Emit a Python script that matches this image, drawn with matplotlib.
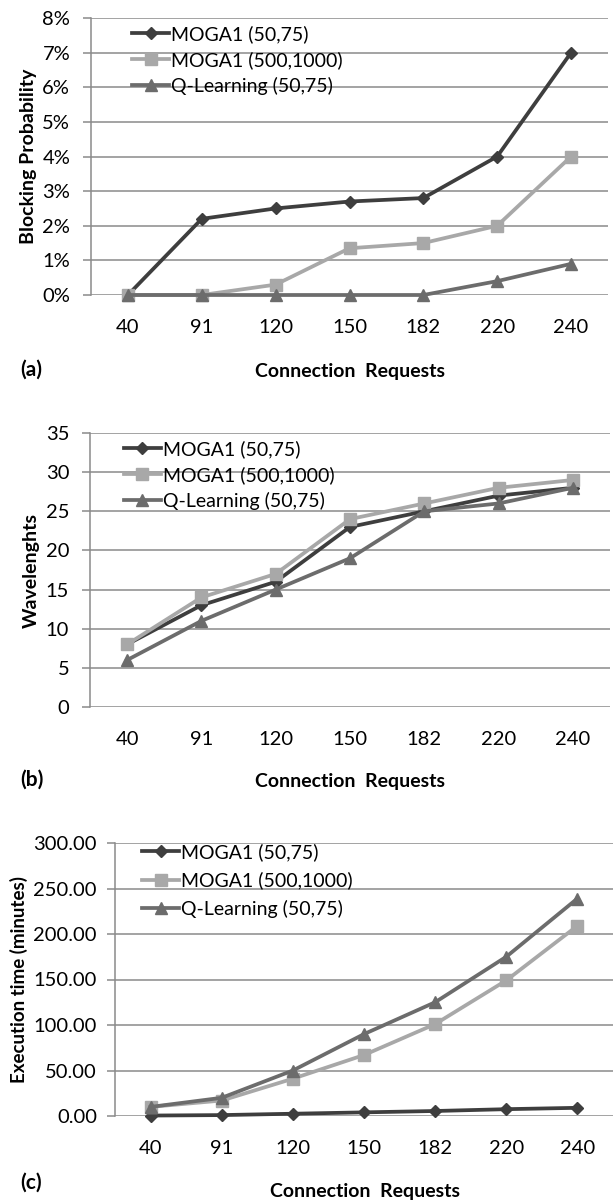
import matplotlib
matplotlib.use("Agg")
import matplotlib.pyplot as plt
from matplotlib.ticker import FuncFormatter

plt.rcParams['font.family'] = ['Lato', 'DejaVu Sans']

# connection requests on the x axis (categorical)
requests = ['40', '91', '120', '150', '182', '220', '240']
series_names = ['MOGA1 (50,75)', 'MOGA1 (500,1000)', 'Q-Learning (50,75)']

# (a) blocking probability, in percent
block_moga_small = [0.0, 2.2, 2.5, 2.7, 2.8, 4.0, 7.0]
block_moga_big = [0.0, 0.0, 0.3, 1.35, 1.5, 2.0, 4.0]
block_qlearn = [0.0, 0.0, 0.0, 0.0, 0.0, 0.4, 0.9]

# (b) wavelengths used
wave_moga_small = [8, 13, 16, 23, 25, 27, 28]
wave_moga_big = [8, 14, 17, 24, 26, 28, 29]
wave_qlearn = [6, 11, 15, 19, 25, 26, 28]

# (c) execution time, minutes
time_moga_small = [0.5, 1.0, 2.5, 4.0, 5.5, 7.5, 9.0]
time_moga_big = [10, 17, 41, 67, 101, 149, 209]
time_qlearn = [10, 20, 50, 90, 125, 175, 239]

colors = ['#3e3e3e', '#a8a8a8', '#6c6c6c']
markers = ['D', 's', '^']
msizes = [6, 8.5, 8.5]
grid_col = '#8a8a8a'

W, H = 613, 1201
fig = plt.figure(figsize=(W / 100, H / 100), dpi=100)


def px_axes(left, top, right, bottom):
    return fig.add_axes([left / W, 1 - bottom / H, (right - left) / W, (bottom - top) / H])


def panel(ax, data, ymax, ystep, fmt, ylabel, ylabel_size, ytick_pad, tag, leg_xy,
          leg_space, tag_y, xlab_xy):
    x = range(len(requests))
    for vals, c, m, ms, name in zip(data, colors, markers, msizes, series_names):
        ax.plot(x, vals, color=c, lw=2.7, marker=m, markersize=ms,
                markerfacecolor=c, markeredgecolor=c, label=name, clip_on=False, zorder=3)
    ax.set_xlim(-0.5, len(requests) - 0.5)
    ax.set_ylim(0, ymax)
    ax.set_yticks([i * ystep for i in range(int(round(ymax / ystep)) + 1)])
    ax.yaxis.set_major_formatter(FuncFormatter(fmt))
    ax.set_xticks(list(x))
    ax.set_xticklabels(requests)
    ax.grid(axis='y', color=grid_col, lw=1.1)
    ax.set_axisbelow(True)
    for s in ['top', 'right', 'bottom']:
        ax.spines[s].set_visible(False)
    ax.spines['left'].set_color(grid_col)
    ax.spines['left'].set_linewidth(1.1)
    ax.tick_params(axis='y', direction='out', length=6, width=1.1, color=grid_col,
                   labelsize=14.5, pad=ytick_pad)
    ax.tick_params(axis='x', length=0, labelsize=14.5, pad=17)
    ax.set_ylabel(ylabel, fontsize=ylabel_size, fontweight='bold', labelpad=4)
    ax.legend(loc='upper left', bbox_to_anchor=leg_xy, frameon=False,
              fontsize=14, handlelength=1.9, handletextpad=0.1,
              labelspacing=leg_space, borderaxespad=0, borderpad=0)
    fig.text(20 / W, 1 - tag_y / H, tag, fontsize=15, fontweight='bold', va='center')
    fig.text(xlab_xy[0] / W, 1 - xlab_xy[1] / H, 'Connection  Requests', fontsize=14,
             fontweight='bold', va='center', ha='center')


ax_a = px_axes(91, 18, 608, 295)
panel(ax_a, [block_moga_small, block_moga_big, block_qlearn], 8, 1,
      lambda v, p: f'{v:.0f}%', 'Blocking Probability', 14, 9, '(a)',
      (0.08, 0.975), 0.42, 370, (350, 372))

ax_b = px_axes(90, 433, 610, 707)
panel(ax_b, [wave_moga_small, wave_moga_big, wave_qlearn], 35, 5,
      lambda v, p: f'{v:.0f}', 'Wavelenghts', 14, 9, '(b)',
      (0.065, 0.975), 0.42, 780, (350, 782))

ax_c = px_axes(115, 843, 613, 1116)
panel(ax_c, [time_moga_small, time_moga_big, time_qlearn], 300, 50,
      lambda v, p: f'{v:.2f}', 'Execution time (minutes)', 13.5, 7, '(c)',
      (0.055, 1.0), 0.55, 1183, (365, 1191))

fig.savefig('out.png', dpi=100)
